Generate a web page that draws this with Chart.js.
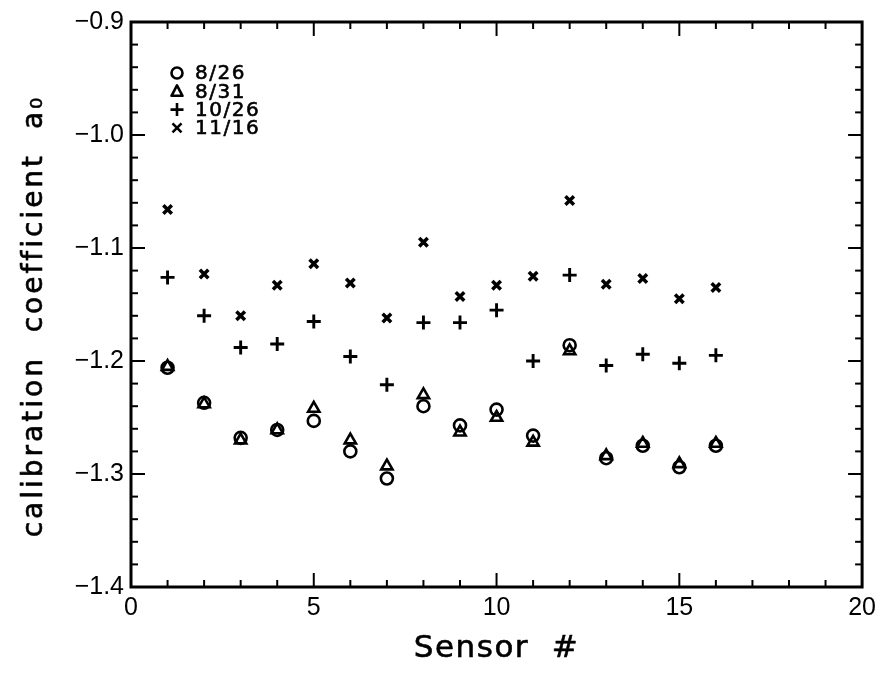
<!DOCTYPE html>
<html>
<head>
<meta charset="utf-8">
<script src="https://cdn.jsdelivr.net/npm/chart.js@4.4.0/dist/chart.umd.min.js"></script>
<style>
  html, body { margin: 0; padding: 0; background: #fff; }
  #wrap { width: 882px; height: 675px; }
</style>
</head>
<body>
<div id="wrap"><canvas id="c" width="882" height="675"></canvas></div>
<script>
// Sensor numbers and calibration coefficient a0 for each calibration date
const sensors = [1, 2, 3, 4, 5, 6, 7, 8, 9, 10, 11, 12, 13, 14, 15, 16];
const a0_0826 = [-1.206, -1.237, -1.268, -1.261, -1.253, -1.280, -1.304, -1.240, -1.257, -1.243, -1.266, -1.186, -1.286, -1.275, -1.294, -1.275];
const a0_0831 = [-1.205, -1.238, -1.270, -1.261, -1.242, -1.270, -1.293, -1.230, -1.263, -1.250, -1.272, -1.191, -1.284, -1.273, -1.291, -1.273];
const a0_1026 = [-1.126, -1.160, -1.188, -1.185, -1.165, -1.196, -1.221, -1.166, -1.166, -1.155, -1.200, -1.124, -1.204, -1.194, -1.202, -1.195];
const a0_1116 = [-1.066, -1.123, -1.160, -1.133, -1.114, -1.131, -1.162, -1.095, -1.143, -1.133, -1.125, -1.058, -1.132, -1.127, -1.145, -1.135];
const seriesLabels = ['8/26', '8/31', '10/26', '11/16'];

const xRange = [0, 20];
const yRange = [-1.4, -0.9];
const xTitle = 'Sensor  #';
const yTitle = 'calibration  coefficient  a\u2080';

const toPoints = vals => sensors.map((s, i) => ({ x: s, y: vals[i] }));

const markerStyles = [
  { pointStyle: 'circle',   pointRadius: 6,   pointBorderWidth: 2.6 },
  { pointStyle: 'triangle', pointRadius: 6.5, pointBorderWidth: 2.6 },
  { pointStyle: 'cross',    pointRadius: 7,   pointBorderWidth: 2.9 },
  { pointStyle: 'crossRot', pointRadius: 6,   pointBorderWidth: 3.5 }
];

const datasets = [a0_0826, a0_0831, a0_1026, a0_1116].map((vals, i) => Object.assign({
  label: seriesLabels[i],
  data: toPoints(vals),
  showLine: false,
  borderColor: '#000',
  backgroundColor: 'rgba(0,0,0,0)',
  pointBorderColor: '#000',
  pointBackgroundColor: 'rgba(0,0,0,0)',
  pointHoverRadius: 6
}, markerStyles[i]));

const TICK_FONT = "'Liberation Sans', Arial, sans-serif";
const TEXT_FONT = "'DejaVu Sans', sans-serif";

// Frame with inward ticks on all four sides
const framePlugin = {
  id: 'frame',
  afterDraw(chart) {
    const { ctx, chartArea: a, scales: { x, y } } = chart;
    ctx.save();
    ctx.strokeStyle = '#000';
    ctx.lineWidth = 3;
    ctx.strokeRect(a.left, a.top, a.right - a.left, a.bottom - a.top);
    ctx.lineWidth = 2;
    const seg = (x1, y1, x2, y2) => { ctx.beginPath(); ctx.moveTo(x1, y1); ctx.lineTo(x2, y2); ctx.stroke(); };
    for (let v = xRange[0] + 1; v < xRange[1]; v++) {
      const len = v % 5 === 0 ? 14 : 7;
      const px = x.getPixelForValue(v);
      seg(px, a.bottom, px, a.bottom - len);
      seg(px, a.top, px, a.top + len);
    }
    for (let i = 1; i < 25; i++) {
      const v = yRange[0] + i * 0.02;
      const len = i % 5 === 0 ? 14 : 7;
      const py = y.getPixelForValue(v);
      seg(a.left, py, a.left + len, py);
      seg(a.right, py, a.right - len, py);
    }
    ctx.restore();
  }
};

// Filled text with a thin outline so the strokes read a little heavier
function heavyText(ctx, text, x, y, weight) {
  ctx.lineWidth = weight;
  ctx.lineJoin = 'round';
  ctx.strokeText(text, x, y);
  ctx.fillText(text, x, y);
}

// Axis titles, set in a wide letter-spaced face
const titlePlugin = {
  id: 'axisTitles',
  afterDraw(chart) {
    const { ctx, chartArea: a } = chart;
    ctx.save();
    ctx.fillStyle = '#000';
    ctx.strokeStyle = '#000';
    ctx.textAlign = 'center';
    ctx.textBaseline = 'alphabetic';
    ctx.font = "31px " + TEXT_FONT;
    ctx.letterSpacing = '1.5px';
    heavyText(ctx, xTitle, (a.left + a.right) / 2, 657, 0.6);
    ctx.font = "28px " + TEXT_FONT;
    ctx.letterSpacing = '3px';
    ctx.translate(42, 316);
    ctx.rotate(-Math.PI / 2);
    heavyText(ctx, yTitle, 0, 0, 0.6);
    ctx.restore();
  }
};

// Legend in the upper-left corner of the plot
const legendPlugin = {
  id: 'cornerLegend',
  afterDraw(chart) {
    const { ctx } = chart;
    const x0 = 177, textX = 195, y0 = 73, dy = 18.3;
    ctx.save();
    ctx.strokeStyle = '#000';
    ctx.fillStyle = '#000';
    ctx.font = "20px " + TEXT_FONT;
    ctx.letterSpacing = '1.5px';
    ctx.textBaseline = 'middle';
    ctx.textAlign = 'left';
    chart.data.datasets.forEach((ds, i) => {
      const yy = y0 + i * dy;
      ctx.lineWidth = 2.6;
      ctx.beginPath();
      if (ds.pointStyle === 'circle') {
        ctx.arc(x0, yy, 5.5, 0, Math.PI * 2);
      } else if (ds.pointStyle === 'triangle') {
        ctx.moveTo(x0, yy - 6); ctx.lineTo(x0 + 5.5, yy + 4.5); ctx.lineTo(x0 - 5.5, yy + 4.5); ctx.closePath();
      } else if (ds.pointStyle === 'cross') {
        ctx.moveTo(x0 - 6.5, yy); ctx.lineTo(x0 + 6.5, yy); ctx.moveTo(x0, yy - 6.5); ctx.lineTo(x0, yy + 6.5);
      } else {
        ctx.moveTo(x0 - 4.5, yy - 4.5); ctx.lineTo(x0 + 4.5, yy + 4.5); ctx.moveTo(x0 + 4.5, yy - 4.5); ctx.lineTo(x0 - 4.5, yy + 4.5);
      }
      ctx.stroke();
      heavyText(ctx, ds.label, textX, yy + 1, 0.6);
    });
    ctx.restore();
  }
};

new Chart(document.getElementById('c'), {
  type: 'scatter',
  data: { datasets },
  options: {
    responsive: false,
    animation: false,
    devicePixelRatio: 1,
    layout: { padding: { top: 17, right: 13, left: 0, bottom: 0 } },
    plugins: { legend: { display: false }, tooltip: { enabled: false } },
    scales: {
      x: {
        type: 'linear',
        min: xRange[0], max: xRange[1],
        grid: { display: false, drawTicks: false },
        border: { display: false },
        ticks: { stepSize: 5, color: '#000', font: { family: TICK_FONT, size: 25 }, padding: 6, maxRotation: 0 },
        afterFit(scale) { scale.height = 88; }
      },
      y: {
        type: 'linear',
        min: yRange[0], max: yRange[1],
        grid: { display: false, drawTicks: false },
        border: { display: false },
        ticks: {
          stepSize: 0.1, color: '#000', font: { family: TICK_FONT, size: 25 }, padding: 7,
          callback: v => (v < 0 ? '\u2212' : '') + Math.abs(v).toFixed(1)
        },
        afterFit(scale) { scale.width = 131; }
      }
    }
  },
  plugins: [framePlugin, titlePlugin, legendPlugin]
});
</script>
</body>
</html>
